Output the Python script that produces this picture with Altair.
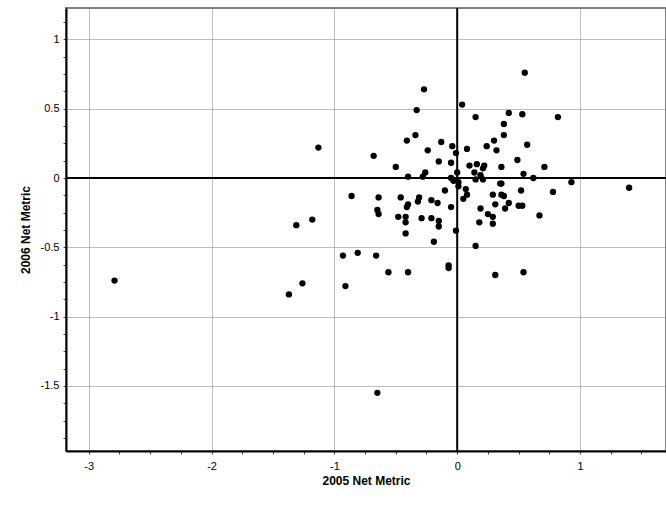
import altair as alt
import pandas as pd

# 2005 net metric (x) and 2006 net metric (y)
x05 = [-2.79, -1.13, -0.68, -0.86, -0.64, -0.65, -0.64, -1.18, -1.31, -0.93,
       -0.81, -0.66, -1.26, -1.37, -0.91, -0.27, 0.04, -0.33, 0.15, -0.41,
       -0.34, -0.13, -0.04, 0.08, 0.24, 0.30, 0.32, -0.24, -0.01, -0.15,
       -0.05, -0.50, 0.10, 0.16, 0.22, 0.21, 0.14, 0.00, -0.40, -0.26,
       -0.28, -0.05, -0.03, 0.01, 0.19, 0.21, 0.01, 0.07, -0.46, -0.10,
       0.08, 0.05, 0.29, 0.35, 0.31, -0.31, -0.32, -0.40, -0.41, -0.21,
       -0.16, -0.05, 0.19, -0.48, -0.42, -0.42, -0.29, -0.21, -0.15, -0.15,
       -0.01, -0.42, -0.19, 0.15, -0.56, -0.40, -0.07, -0.07, 0.31, 0.15,
       0.18, 0.25, 0.29, 0.29, 0.55, 0.42, 0.53, 0.82, 0.38, 0.38,
       0.57, 0.49, 0.36, 0.71, 0.54, 0.62, 0.93, 1.40, 0.36, 0.52,
       0.78, 0.36, 0.38, 0.42, 0.39, 0.50, 0.53, 0.67, 0.54, -0.65]
y06 = [-0.74, 0.22, 0.16, -0.13, -0.14, -0.23, -0.26, -0.30, -0.34, -0.56,
       -0.54, -0.56, -0.76, -0.84, -0.78, 0.64, 0.53, 0.49, 0.44, 0.27,
       0.31, 0.26, 0.23, 0.21, 0.23, 0.27, 0.20, 0.20, 0.18, 0.12,
       0.11, 0.08, 0.09, 0.10, 0.09, 0.07, 0.04, 0.04, 0.01, 0.04,
       0.01, 0.00, -0.02, -0.03, 0.02, -0.01, -0.06, -0.08, -0.14, -0.09,
       -0.12, -0.15, -0.12, -0.04, -0.19, -0.14, -0.17, -0.19, -0.21, -0.16,
       -0.18, -0.21, -0.22, -0.28, -0.28, -0.32, -0.29, -0.29, -0.31, -0.35,
       -0.38, -0.40, -0.46, -0.49, -0.68, -0.68, -0.63, -0.65, -0.70, -0.01,
       -0.32, -0.26, -0.28, -0.33, 0.76, 0.47, 0.46, 0.44, 0.39, 0.31,
       0.24, 0.13, 0.08, 0.08, 0.03, 0.00, -0.03, -0.07, -0.04, -0.09,
       -0.10, -0.12, -0.13, -0.18, -0.22, -0.20, -0.20, -0.27, -0.68, -1.55]

x_ticks = [-3 + 0.25 * i for i in range(19)]      # -3 .. 1.5, labels at integers
y_ticks = [-1.875 + 0.125 * i for i in range(25)]  # -1.875 .. 1.125, labels at halves
zero = [0]

FONT = "Liberation Sans"

df = pd.DataFrame({"x": x05, "y": y06})
zdf = pd.DataFrame({"z": zero})

xscale = alt.Scale(domain=[-3.185, 1.70], nice=False, zero=False)
yscale = alt.Scale(domain=[-1.97, 1.227], nice=False, zero=False)

xaxis = alt.Axis(
    values=x_ticks,
    labelExpr="datum.value % 1 === 0 ? '' + datum.value : ''",
    gridOpacity={"condition": {"test": "datum.value % 1 === 0", "value": 1}, "value": 0},
    grid=True, gridColor="#7a7a7a", gridDash=[1, 1], gridWidth=1,
    tickSize=3, tickColor="#444444", domainColor="black", domainWidth=2,
    labelFont=FONT, labelFontSize=11, labelColor="black", labelPadding=6,
    title="2005 Net Metric", titleFont=FONT, titleFontSize=12, titleFontWeight="bold",
    titleColor="black", titlePadding=4, labelFlush=False, labelOverlap=False,
)
yaxis = alt.Axis(
    values=y_ticks,
    labelExpr="(datum.value * 2) % 1 === 0 ? '' + datum.value : ''",
    gridOpacity={"condition": {"test": "(datum.value * 2) % 1 === 0", "value": 1}, "value": 0},
    grid=True, gridColor="#7a7a7a", gridDash=[1, 1], gridWidth=1,
    tickSize=3, tickColor="#444444", domainColor="black", domainWidth=2,
    labelFont=FONT, labelFontSize=11, labelColor="black", labelPadding=4,
    title="2006 Net Metric", titleFont=FONT, titleFontSize=12, titleFontWeight="bold",
    titleColor="black", titlePadding=8, labelFlush=False, labelOverlap=False,
)

points = alt.Chart(df).mark_circle(color="black", opacity=1, size=40).encode(
    x=alt.X("x:Q", scale=xscale, axis=xaxis),
    y=alt.Y("y:Q", scale=yscale, axis=yaxis),
)
vline = alt.Chart(zdf).mark_rule(color="black", strokeWidth=2).encode(
    x=alt.X("z:Q", scale=xscale, axis=xaxis))
hline = alt.Chart(zdf).mark_rule(color="black", strokeWidth=2).encode(
    y=alt.Y("z:Q", scale=yscale, axis=yaxis))

chart = alt.layer(points, vline, hline).properties(
    width=600, height=443,
    autosize=alt.AutoSizeParams(type="none"),
    padding={"left": 66, "top": 8, "right": 0, "bottom": 56},
    background="white",
).configure_view(stroke="#808080", strokeWidth=2)

chart.save("out.html", embed_options={"renderer": "svg", "actions": False})
